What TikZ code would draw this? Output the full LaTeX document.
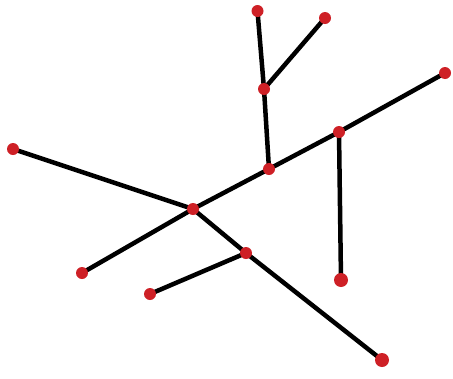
\documentclass[tikz,border=0pt]{standalone}
\usetikzlibrary{backgrounds}
\definecolor{dotred}{RGB}{206,32,38}
\begin{document}
\begin{tikzpicture}[x=1pt,y=-1pt,
  dot/.style={circle,fill=dotred,inner sep=0pt,minimum size=12pt},
  bigdot/.style={dot,minimum size=14pt},
  edge/.style={line width=4.5pt,black}]
\useasboundingbox (0,0) rectangle (453,378);
\node[dot] (A) at (257.5,11) {};
\node[dot] (B) at (325,18) {};
\node[dot] (C) at (264,89) {};
\node[dot] (D) at (445,73) {};
\node[dot] (E) at (339,132) {};
\node[dot] (F) at (13,149) {};
\node[dot] (G) at (269,169) {};
\node[dot] (H) at (193,209) {};
\node[dot] (I) at (82,273) {};
\node[dot] (J) at (246,253) {};
\node[dot] (K) at (150,294) {};
\node[bigdot] (L) at (341,280) {};
\node[bigdot] (M) at (382,360) {};
\begin{scope}[on background layer]
\draw[edge] (A.center) -- (C.center);
\draw[edge] (B.center) -- (C.center);
\draw[edge] (C.center) -- (G.center);
\draw[edge] (H.center) -- (G.center) -- (E.center) -- (D.center);
\draw[edge] (E.center) -- (L.center);
\draw[edge] (F.center) -- (H.center);
\draw[edge] (H.center) -- (I.center);
\draw[edge] (H.center) -- (J.center) -- (M.center);
\draw[edge] (J.center) -- (K.center);
\end{scope}
\end{tikzpicture}
\end{document}
